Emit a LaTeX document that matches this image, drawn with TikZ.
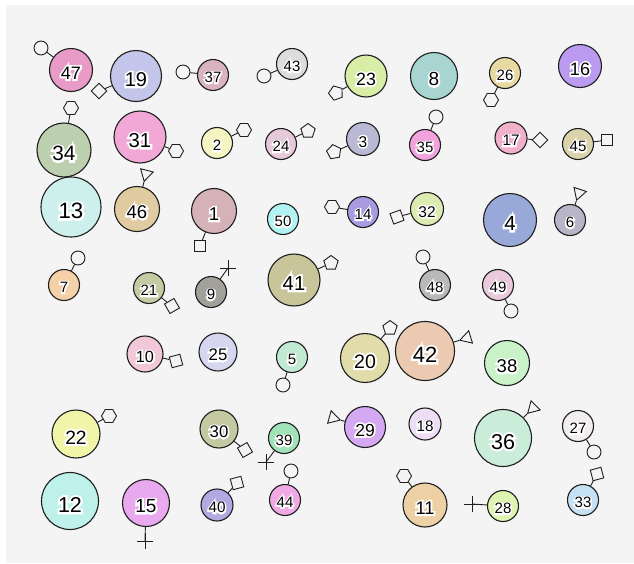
\documentclass[tikz,border=0pt]{standalone}
\usepackage{fontspec}
\setmainfont{Liberation Sans}
\newfontfamily\halofont[FakeBold=20]{Liberation Sans}
\usetikzlibrary{shapes.geometric,shapes.misc}
\definecolor{bgc}{HTML}{F4F4F4}
\definecolor{ink}{HTML}{1E1E1E}
\newcommand\halo[1]{\rlap{\color{white}\halofont #1}#1}
\tikzset{
  bubble/.style={circle, draw=ink, line width=1.1pt, inner sep=0pt},
  link/.style={draw=ink, line width=0.9pt},
  dcirc/.style={circle, draw=ink, line width=0.9pt, minimum size=14pt, inner sep=0pt},
  dpoly/.style={regular polygon, regular polygon sides=#1, draw=ink, line width=0.9pt, minimum size=15pt, inner sep=0pt},
  dsq/.style={regular polygon, regular polygon sides=4, draw=ink, line width=0.9pt, minimum size=15.5pt, inner sep=0pt},
  dtri/.style={regular polygon, regular polygon sides=3, draw=ink, line width=0.9pt, minimum size=15pt, inner sep=0pt},
  dplus/.style={cross out, draw=ink, line width=1pt, rotate=45, minimum size=10pt, inner sep=0pt},
}
\newcommand\bub[5]{%
  \definecolor{fc#1}{HTML}{#5}%
  \pgfmathsetmacro\fs{0.5*#4+7}%
  \node[bubble, fill=fc#1, minimum size={2*#4-1}] (c#1) at (#2,#3)
    {\fontsize{\fs pt}{\fs pt}\selectfont\raisebox{-0.17em}[\height][0pt]{\halo{#1}}};}
\begin{document}
\begin{tikzpicture}[x=1pt,y=-1pt]
\useasboundingbox (0,0) rectangle (634,563);
\fill[white] (0,0) rectangle (634,563);
\fill[bgc] (6,5) rectangle (634,563);
% row 1
\bub{47}{71}{70}{22}{E89BC6}
\node[dcirc] (d47) at (41,48) {};
\draw[link] (c47) -- (d47);
\bub{19}{136}{76}{26}{C3C5EA}
\node[dsq, rotate=45] (d19) at (99,91) {};
\draw[link] (c19) -- (d19);
\bub{37}{213}{75}{16}{D9B3BF}
\node[dcirc] (d37) at (183,72) {};
\draw[link] (c37) -- (d37);
\bub{43}{292}{64}{16}{DDDCDF}
\node[dcirc] (d43) at (264,76) {};
\draw[link] (c43) -- (d43);
\bub{23}{366}{76}{21.5}{D8EEA6}
\node[dpoly=5, rotate=20] (d23) at (336,93) {};
\draw[link] (c23) -- (d23);
\bub{8}{434}{76}{24}{A8D5D1}
\bub{26}{505}{73}{16}{E8D9A0}
\node[dpoly=6] (d26) at (491,100) {};
\draw[link] (c26) -- (d26);
\bub{16}{580}{66}{22}{BB9BF0}
% row 2
\bub{34}{64}{150}{27.5}{BCCFAF}
\node[dpoly=6] (d34) at (71,108) {};
\draw[link] (c34) -- (d34);
\bub{31}{140}{137}{26.5}{F2A8D6}
\node[dpoly=6] (d31) at (176,151) {};
\draw[link] (c31) -- (d31);
\bub{2}{217}{143}{16}{F5F5C2}
\node[dpoly=6] (d2) at (244,130) {};
\draw[link] (c2) -- (d2);
\bub{24}{281}{144}{16}{E5C9D8}
\node[dpoly=5] (d24) at (308,131) {};
\draw[link] (c24) -- (d24);
\bub{3}{363}{139}{17}{B9B8D5}
\node[dpoly=5, rotate=10] (d3) at (334,152) {};
\draw[link] (c3) -- (d3);
\bub{35}{425}{145}{16}{F2A2DC}
\node[dcirc] (d35) at (436,117) {};
\draw[link] (c35) -- (d35);
\bub{17}{511}{138}{16.5}{F1B1CB}
\node[dsq, rotate=45] (d17) at (540,140) {};
\draw[link] (c17) -- (d17);
\bub{45}{578}{144}{16}{D9D2AA}
\node[dsq] (d45) at (607,140) {};
\draw[link] (c45) -- (d45);
% row 3
\bub{13}{71}{207}{30.5}{CEF0EC}
\bub{46}{137}{209}{23}{E1CBA0}
\node[dtri, rotate=165.6] (d46) at (146,174) {};
\draw[link] (c46) -- (d46);
\bub{1}{214}{211}{23}{D5B1B8}
\node[dsq] (d1) at (200,246) {};
\draw[link] (c1) -- (d1);
\bub{50}{283}{219}{16}{B0F3F2}
\bub{14}{363}{212}{16}{A99BE2}
\node[dpoly=6] (d14) at (332,207) {};
\draw[link] (c14) -- (d14);
\bub{32}{427}{209}{17}{DCEBB1}
\node[dsq, rotate=20] (d32) at (397,217) {};
\draw[link] (c32) -- (d32);
\bub{4}{510}{220}{27}{98A8D8}
\bub{6}{570}{220}{16}{B9B5C8}
\node[dtri, rotate=161.6] (d6) at (579,193) {};
\draw[link] (c6) -- (d6);
% row 4
\bub{7}{64}{285}{16}{F5D1A9}
\node[dcirc] (d7) at (78,258) {};
\draw[link] (c7) -- (d7);
\bub{21}{149}{288}{16}{C3CBA2}
\node[dsq, rotate=30] (d21) at (172,306) {};
\draw[link] (c21) -- (d21);
\bub{9}{211}{292}{16}{A1A199}
\node[dplus] (d9) at (228,268) {};
\draw[link] (c9) -- (d9.center);
\bub{41}{294}{280}{26.5}{C9C59A}
\node[dpoly=5] (d41) at (331,263) {};
\draw[link] (c41) -- (d41);
\bub{48}{435}{285}{16}{B9B9B9}
\node[dcirc] (d48) at (423,257) {};
\draw[link] (c48) -- (d48);
\bub{49}{498}{285}{16}{E9C9DB}
\node[dcirc] (d49) at (511,311) {};
\draw[link] (c49) -- (d49);
% row 5
\bub{10}{145}{354}{18.5}{F0C8D8}
\node[dsq, rotate=15] (d10) at (176,361) {};
\draw[link] (c10) -- (d10);
\bub{25}{218}{352}{19.5}{D6D6F0}
\bub{5}{292}{357}{16}{C2E9D1}
\node[dcirc] (d5) at (283,385) {};
\draw[link] (c5) -- (d5);
\bub{20}{365}{358}{25}{E1DCA9}
\node[dpoly=5] (d20) at (390,328) {};
\draw[link] (c20) -- (d20);
\bub{42}{425}{351}{30}{ECC9B1}
\node[dtri, rotate=107.2] (d42) at (467,338) {};
\draw[link] (c42) -- (d42);
\bub{38}{507}{363}{23}{C9F2C9}
% row 6
\bub{22}{76}{434}{24.5}{F1F5A9}
\node[dpoly=6] (d22) at (109,416) {};
\draw[link] (c22) -- (d22);
\bub{30}{219}{429}{19.5}{C5C9A1}
\node[dsq, rotate=30] (d30) at (245,450) {};
\draw[link] (c30) -- (d30);
\bub{39}{284}{438}{16}{A1E3B9}
\node[dplus] (d39) at (266,462) {};
\draw[link] (c39) -- (d39.center);
\bub{29}{365}{427}{21}{D5A9F1}
\node[dtri, rotate=-105.7] (d29) at (333,418) {};
\draw[link] (c29) -- (d29);
\bub{18}{425}{424}{16.5}{EEDDF5}
\bub{36}{503}{438}{29}{C9EDD9}
\node[dtri, rotate=135] (d36) at (533,408) {};
\draw[link] (c36) -- (d36);
\bub{27}{578}{426}{16}{F2EEEE}
\node[dcirc] (d27) at (594,452) {};
\draw[link] (c27) -- (d27);
% row 7
\bub{12}{70}{501}{29}{BDF1E9}
\bub{15}{146}{503}{24}{E9A9EE}
\node[dplus] (d15) at (145,541) {};
\draw[link] (c15) -- (d15.center);
\bub{40}{217}{505}{16.5}{B1A9E1}
\node[dsq, rotate=15] (d40) at (237,483) {};
\draw[link] (c40) -- (d40);
\bub{44}{285}{500}{16}{F1A9E5}
\node[dcirc] (d44) at (291,471) {};
\draw[link] (c44) -- (d44);
\bub{11}{425}{505}{22.5}{EDD1A5}
\node[dpoly=6] (d11) at (404,476) {};
\draw[link] (c11) -- (d11);
\bub{28}{503}{506}{16}{DDF5B1}
\node[dplus] (d28) at (472,504) {};
\draw[link] (c28) -- (d28.center);
\bub{33}{583}{500}{16}{C5E1F3}
\node[dsq, rotate=15] (d33) at (597,474) {};
\draw[link] (c33) -- (d33);
\end{tikzpicture}
\end{document}
